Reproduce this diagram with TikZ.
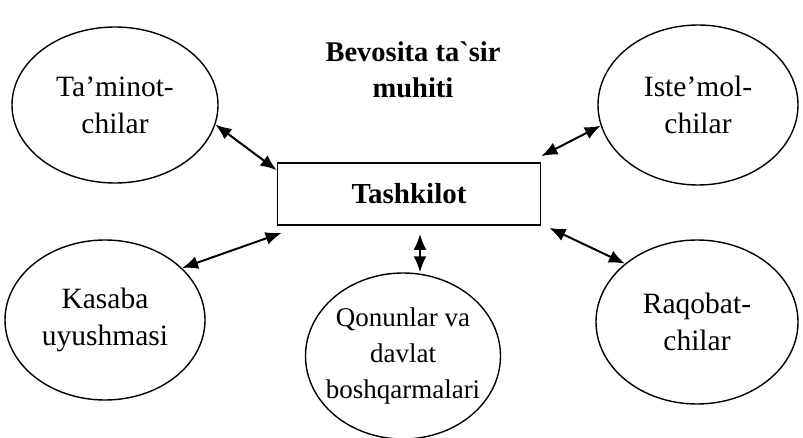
\documentclass[tikz,border=0pt]{standalone}
\usepackage{fontspec}
\setmainfont{Liberation Serif}
\usetikzlibrary{shapes.geometric,arrows.meta}

\tikzset{
  env/.style={ellipse,draw,line width=1.4pt,align=center,inner sep=-20pt,font=\fontsize{29.5}{37}\selectfont},
  arr/.style={{Latex[length=16pt,width=13pt]}-{Latex[length=16pt,width=13pt]},line width=2pt}
}

\begin{document}
\begin{tikzpicture}[x=1pt,y=-1pt]
\useasboundingbox (0,0) rectangle (803,438);

\node[env,minimum width=206pt,minimum height=156pt] (supp) at (115,105) {Ta’minot-\\chilar};
\node[env,minimum width=200pt,minimum height=160pt] (cons) at (698,105) {Iste’mol-\\chilar};
\node[env,minimum width=200pt,minimum height=160pt] (union) at (105,320) {Kasaba\\uyushmasi};
\node[env,minimum width=202pt,minimum height=164pt] (comp) at (697,322) {Raqobat-\\chilar};
\node[env,minimum width=195pt,minimum height=166pt,font=\fontsize{27}{36}\selectfont] (law) at (403,356) {Qonunlar va\\davlat\\boshqarmalari};

\node[draw,line width=1.8pt,minimum width=263pt,minimum height=62pt,font=\fontsize{29}{35}\selectfont\bfseries] (org) at (409,194) {Tashkilot};
\node[align=center,font=\fontsize{28.5}{36}\selectfont\bfseries] (title) at (413,70) {Bevosita ta\textasciigrave sir\\muhiti};

\draw[arr] (supp.-11) -- ([yshift=-8pt]org.north west);
\draw[arr] ([yshift=6pt]org.north east) -- (cons.-168);
\draw[arr] (union.34) -- ([xshift=5pt,yshift=-7pt]org.south west);
\draw[arr] ([xshift=8pt,yshift=-2pt]org.south east) -- (comp.141);
\draw[arr] ([xshift=11pt,yshift=-8pt]org.south) -- ([xshift=11pt]org.south |- law.north);
\end{tikzpicture}
\end{document}
